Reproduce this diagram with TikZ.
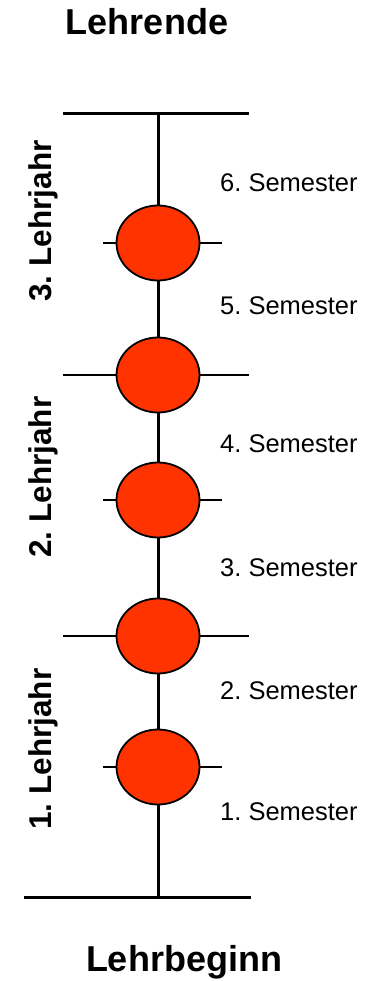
\documentclass[tikz,border=0pt]{standalone}
\usepackage{fontspec}
\setmainfont{Liberation Sans}
\usetikzlibrary{shapes.geometric}
\frenchspacing
\definecolor{dotred}{RGB}{255,51,0}
\tikzset{
  sem/.style={ellipse, draw=black, line width=1.8pt, fill=dotred, minimum width=83pt, minimum height=75pt, inner sep=0pt},
  semlabel/.style={anchor=base west, inner sep=0pt, font=\fontsize{25.5}{28}\selectfont},
  yearlabel/.style={rotate=90, anchor=center, inner sep=0pt, font=\fontsize{31.5}{34}\selectfont\bfseries},
  titlelabel/.style={anchor=base, inner sep=0pt, font=\fontsize{36}{40}\selectfont\bfseries},
  axis/.style={line width=3pt},
  longtick/.style={line width=2pt},
  shorttick/.style={line width=1.3pt}
}
\begin{document}
\begin{tikzpicture}[x=1pt,y=-1pt]
\useasboundingbox (0,0) rectangle (372,981);
% axis end points
\coordinate (top) at (158,114);
\coordinate (bot) at (158,897);
\coordinate (topL) at (63,114);
\coordinate (topR) at (249,114);
\coordinate (botL) at (24,897);
\coordinate (botR) at (251,897);
% tick end points
\coordinate (t1L) at (103,767); \coordinate (t1R) at (222,767);
\coordinate (t2L) at (63,636);  \coordinate (t2R) at (249,636);
\coordinate (t3L) at (103,500); \coordinate (t3R) at (222,500);
\coordinate (t4L) at (63,375);  \coordinate (t4R) at (249,375);
\coordinate (t5L) at (103,243); \coordinate (t5R) at (222,243);
% lines behind the dots
\draw[axis] (top) -- (bot);
\draw[axis] (topL) -- (topR);
\draw[axis] (botL) -- (botR);
\draw[shorttick] (t1L) -- (t1R);
\draw[longtick] (t2L) -- (t2R);
\draw[shorttick] (t3L) -- (t3R);
\draw[longtick] (t4L) -- (t4R);
\draw[shorttick] (t5L) -- (t5R);
% dots
\node[sem] (e1) at (158,767) {};
\node[sem] (e2) at (158,636) {};
\node[sem] (e3) at (158,500) {};
\node[sem] (e4) at (158,375) {};
\node[sem] (e5) at (158,243) {};
% semester labels
\node[semlabel] (s6) at (220,192) {6. Semester};
\node[semlabel] (s5) at (220,314) {5. Semester};
\node[semlabel] (s4) at (220,452) {4. Semester};
\node[semlabel] (s3) at (220,576) {3. Semester};
\node[semlabel] (s2) at (220,699) {2. Semester};
\node[semlabel] (s1) at (220,820) {1. Semester};
% year labels
\node[yearlabel] (y3) at (43,221) {3. Lehrjahr};
\node[yearlabel] (y2) at (43,477) {2. Lehrjahr};
\node[yearlabel] (y1) at (43,749) {1. Lehrjahr};
% titles
\node[titlelabel] (tt) at (147,35) {Lehrende};
\node[titlelabel] (tb) at (184,971) {Lehrbeginn};
\end{tikzpicture}
\end{document}
